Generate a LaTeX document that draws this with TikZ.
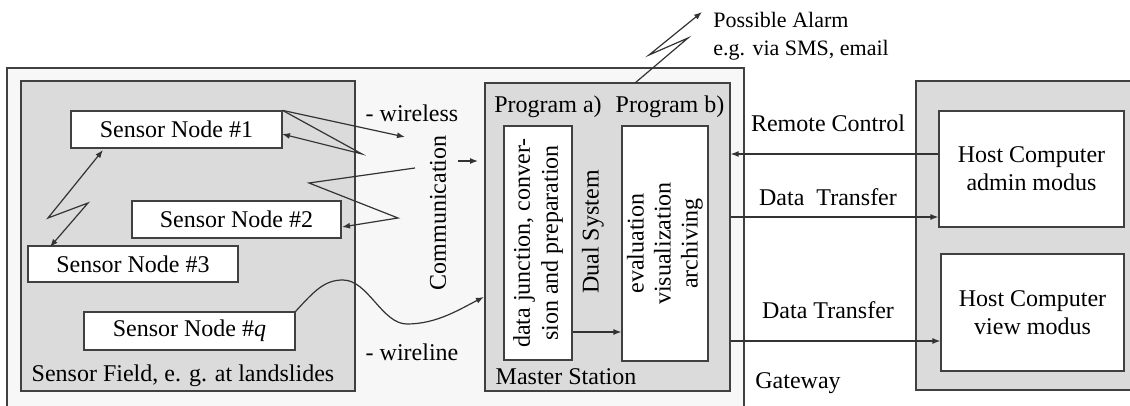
\documentclass[tikz,border=0pt]{standalone}
\usepackage{fontspec}
\setmainfont{Liberation Serif}
\usetikzlibrary{arrows.meta,fit}
\begin{document}
\begin{tikzpicture}[x=0.5pt,y=-0.5pt,
  font=\fontsize{12}{14}\selectfont,
  frame/.style={draw=black!75, line width=0.6pt, inner sep=0pt},
  wbox/.style={frame, fill=white},
  gbox/.style={frame, fill=black!14},
  lbox/.style={frame, fill=black!3, line width=0.8pt},
  txt/.style={inner sep=0pt},
  conn/.style={draw=black!80, line width=0.6pt},
  arr/.style={conn, -{Latex[length=4pt,width=3pt]}},
  darr/.style={conn, {Latex[length=4pt,width=3pt]}-{Latex[length=4pt,width=3pt]}},
]
\useasboundingbox (0,0) rectangle (1130,406);
% containers
\node[lbox, fit={(7,68)(744,414)}] (gw) {};
\node[gbox, fit={(21,81)(355,391)}] (field) {};
\node[gbox, fit={(485,83)(730,391)}] (ms) {};
\node[gbox, fit={(916,81)(1140,390)}] (hosts) {};
% sensor nodes
\node[wbox, fit={(71,111)(282,148)}] (sn1) {};
\node[wbox, fit={(132,201)(341,238)}] (sn2) {};
\node[wbox, fit={(28,246)(238,282)}] (sn3) {};
\node[wbox, fit={(84,312)(295,350)}] (snq) {};
\node[txt] (tsn1) at (sn1.center) {Sensor Node \#1};
\node[txt] (tsn2) at (sn2.center) {Sensor Node \#2};
\node[txt] (tsn3) at (sn3.center) {Sensor Node \#3};
\node[txt] (tsnq) at (snq.center) {Sensor Node \#\textit{q}};
% master station boxes
\node[wbox, fit={(504,126)(572,360)}] (dj) {};
\node[wbox, fit={(622,126)(708,361)}] (ev) {};
% hosts
\node[wbox, fit={(939,111)(1124,227)}] (h1) {};
\node[wbox, fit={(941,254)(1124,371)}] (h2) {};
\node[txt, align=center] (th1) at (h1.center) {Host Computer\\admin modus};
\node[txt, align=center] (th2) at (h2.center) {Host Computer\\view modus};
% texts
\node[txt] (tfield) at (183,376) {Sensor Field, e. g. at landslides};
\node[txt] (tpa) at (548,107) {Program a)};
\node[txt] (tpb) at (670,107) {Program b)};
\node[txt] (tms) at (566,377) {Master Station};
\node[txt, rotate=90, align=center] (tdj) at (dj.center) {data junction, conver-\\sion and preparation};
\node[txt, rotate=90, align=center, font=\fontsize{12}{13.5}\selectfont] (tev) at (ev.center) {evaluation\\visualization\\archiving};
\node[txt, rotate=90] (tdual) at (593,232) {Dual System};
\node[txt, rotate=90] (tcomm) at (438,213) {Communication};
\node[txt] (twl) at (412,113) {- wireless};
\node[txt] (twr) at (412,352) {- wireline};
\node[txt] (trc) at (828,123) {Remote Control};
\node[txt] (tdt1) at (828,197) {Data\ \ Transfer};
\node[txt] (tdt2) at (828,310) {Data Transfer};
\node[txt] (tgw) at (798,383) {Gateway};
\node[txt, anchor=west, font=\fontsize{11}{13}\selectfont] (tal1) at (713,20) {Possible Alarm};
\node[txt, anchor=west, font=\fontsize{11}{13}\selectfont] (tal2) at (713,50) {e.g. via SMS, email};
% coordinates for connector ends and kinks
\coordinate (w1) at (405,137);
\coordinate (k1) at (362,154);
\coordinate (t1) at (282,134);
\coordinate (c2) at (415,168);
\coordinate (k2a) at (309,183);
\coordinate (k2b) at (398,218);
\coordinate (t2) at (342,227);
\coordinate (t13a) at (103,150);
\coordinate (k3a) at (48,218);
\coordinate (k3b) at (88,203);
\coordinate (t13b) at (50,247);
\coordinate (ca) at (458,161);
\coordinate (cb) at (478,161);
\coordinate (a0) at (635,83);
\coordinate (ka) at (688,38);
\coordinate (kb) at (649,55);
\coordinate (a1) at (702,12);
\coordinate (rc) at (0,154);
\coordinate (d1) at (0,217);
\coordinate (d2) at (0,341);
\coordinate (ia) at (0,332);
% wireless connectors
\draw[arr] (sn1.north east) -- (w1);
\draw[arr] (sn1.north east) -- (k1) -- (t1);
\draw[arr] (c2) -- (k2a) -- (k2b) -- (t2);
\draw[darr] (t13a) -- (k3a) -- (k3b) -- (t13b);
\draw[arr] (ca) -- (cb);
% wireline
\draw[arr] (snq.north east) .. controls (315,290) and (325,280) .. (343,280)
  .. controls (368,280) and (382,324) .. (407,324)
  .. controls (437,324) and (460,309) .. (484,297);
% inner arrow
\draw[arr] (dj.east |- ia) -- (ev.west |- ia);
% alarm
\draw[arr] (a0) -- (ka) -- (kb) -- (a1);
% gateway links
\draw[arr] (h1.west |- rc) -- (ms.east |- rc);
\draw[arr] (ms.east |- d1) -- (h1.west |- d1);
\draw[arr] (ms.east |- d2) -- (h2.west |- d2);
\end{tikzpicture}
\end{document}
